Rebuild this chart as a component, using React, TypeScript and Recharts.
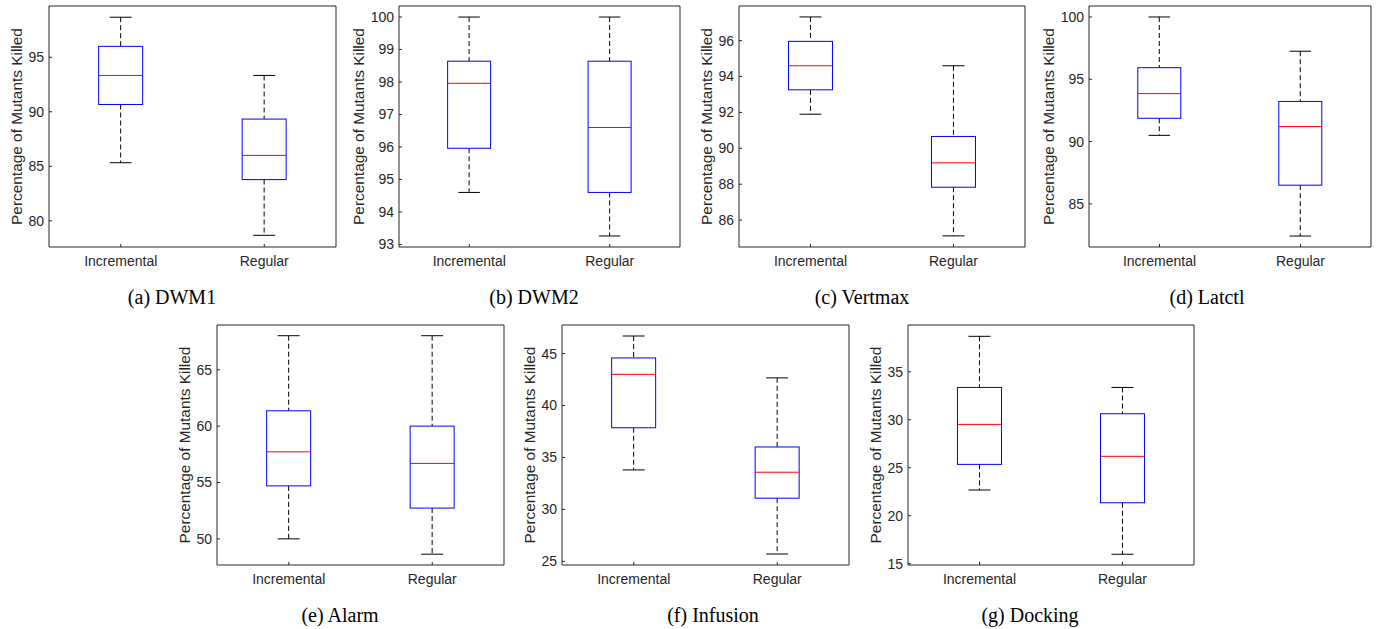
import { Bar, BarChart, XAxis, YAxis } from "recharts";

const categories = ["Incremental", "Regular"];

// each box: [lower whisker, Q1, median, Q3, upper whisker]
const dwm1Incremental = [85.33, 90.67, 93.33, 96.0, 98.67];
const dwm1Regular = [78.67, 83.78, 86.0, 89.33, 93.33];
const dwm1Ticks = [80, 85, 90, 95];
const dwm1Domain = [77.6, 99.7];

const dwm2Incremental = [94.6, 95.96, 97.96, 98.64, 100];
const dwm2Regular = [93.26, 94.6, 96.6, 98.64, 100];
const dwm2Ticks = [93, 94, 95, 96, 97, 98, 99, 100];
const dwm2Domain = [92.92, 100.34];

const vertmaxIncremental = [91.9, 93.26, 94.6, 95.96, 97.32];
const vertmaxRegular = [85.12, 87.83, 89.19, 90.66, 94.6];
const vertmaxTicks = [86, 88, 90, 92, 94, 96];
const vertmaxDomain = [84.5, 97.93];

const latctlIncremental = [90.5, 91.87, 93.85, 95.93, 100];
const latctlRegular = [82.42, 86.5, 91.2, 93.22, 97.25];
const latctlTicks = [85, 90, 95, 100];
const latctlDomain = [81.54, 100.88];

const alarmIncremental = [50, 54.7, 57.72, 61.36, 68.02];
const alarmRegular = [48.64, 52.73, 56.69, 60, 68.02];
const alarmTicks = [50, 55, 60, 65];
const alarmDomain = [47.68, 68.97];

const infusionIncremental = [33.8, 37.86, 43.0, 44.58, 46.69];
const infusionRegular = [25.71, 31.08, 33.58, 36.01, 42.66];
const infusionTicks = [25, 30, 35, 40, 45];
const infusionDomain = [24.65, 47.75];

const dockingIncremental = [22.68, 25.35, 29.52, 33.37, 38.7];
const dockingRegular = [15.98, 21.35, 26.19, 30.63, 33.37];
const dockingTicks = [15, 20, 25, 30, 35];
const dockingDomain = [14.86, 39.88];

const panels = [
  { caption: "(a) DWM1", incremental: dwm1Incremental, regular: dwm1Regular, ticks: dwm1Ticks, domain: dwm1Domain },
  { caption: "(b) DWM2", incremental: dwm2Incremental, regular: dwm2Regular, ticks: dwm2Ticks, domain: dwm2Domain },
  { caption: "(c) Vertmax", incremental: vertmaxIncremental, regular: vertmaxRegular, ticks: vertmaxTicks, domain: vertmaxDomain },
  { caption: "(d) Latctl", incremental: latctlIncremental, regular: latctlRegular, ticks: latctlTicks, domain: latctlDomain },
  { caption: "(e) Alarm", incremental: alarmIncremental, regular: alarmRegular, ticks: alarmTicks, domain: alarmDomain },
  { caption: "(f) Infusion", incremental: infusionIncremental, regular: infusionRegular, ticks: infusionTicks, domain: infusionDomain },
  { caption: "(g) Docking", incremental: dockingIncremental, regular: dockingRegular, ticks: dockingTicks, domain: dockingDomain },
];

// plot frame of each panel on the page, and where its caption sits
const frames = [
  { left: 49, top: 6, right: 336, bottom: 247, captionX: 172, captionY: 304 },
  { left: 399, top: 6, right: 680, bottom: 247, captionX: 534, captionY: 304 },
  { left: 739, top: 6, right: 1025, bottom: 247, captionX: 862, captionY: 304 },
  { left: 1089, top: 6, right: 1371, bottom: 247, captionX: 1207, captionY: 304 },
  { left: 217, top: 325, right: 504, bottom: 565, captionX: 340, captionY: 622 },
  { left: 562, top: 325, right: 849, bottom: 565, captionX: 713, captionY: 622 },
  { left: 908, top: 325, right: 1194, bottom: 565, captionX: 1030, captionY: 622 },
];

const AXIS_W = 60;
const AXIS_H = 30;
const PAD = 6;
const INK = "#262626";
const SANS = "'Liberation Sans', Arial, sans-serif";

function BoxShape(props: any) {
  const { x, y, width, height, payload } = props;
  const [lo, q1, med, q3, hi] = payload.stats;
  const top = Math.min(y, y + height);
  const span = Math.abs(height);
  const py = (v: number) => top + (span * (hi - v)) / (hi - lo);
  const cx = x + width / 2;
  const cap = width / 4;
  return (
    <g>
      <line x1={cx} x2={cx} y1={py(hi)} y2={py(q3)} stroke="#000" strokeDasharray="5 3" />
      <line x1={cx} x2={cx} y1={py(q1)} y2={py(lo)} stroke="#000" strokeDasharray="5 3" />
      <line x1={cx - cap} x2={cx + cap} y1={py(hi)} y2={py(hi)} stroke="#000" />
      <line x1={cx - cap} x2={cx + cap} y1={py(lo)} y2={py(lo)} stroke="#000" />
      <rect x={x} y={py(q3)} width={width} height={py(q1) - py(q3)} fill="none" stroke="#0000ff" />
      <line x1={x} x2={x + width} y1={py(med)} y2={py(med)} stroke="#ff0000" />
    </g>
  );
}

function BoxPanel({ panel, frame }: { panel: any; frame: any }) {
  const data = categories.map((name, i) => {
    const stats = i === 0 ? panel.incremental : panel.regular;
    return { name, stats, range: [stats[0], stats[4]] };
  });
  const width = frame.right - frame.left + AXIS_W + PAD;
  const height = frame.bottom - frame.top + PAD + AXIS_H;
  const labelOffset = Math.max(...panel.ticks) >= 100 ? 41 : 33;

  return (
    <div style={{ position: "absolute", left: frame.left - AXIS_W, top: frame.top - PAD }}>
      <BarChart
        width={width}
        height={height}
        data={data}
        margin={{ top: PAD - 1, right: PAD - 1, bottom: 0, left: 0 }}
        barCategoryGap="34.6%"
      >
        <XAxis
          xAxisId="bottom"
          dataKey="name"
          height={AXIS_H}
          interval={0}
          tickSize={-3}
          tickMargin={12}
          axisLine={{ stroke: INK }}
          tickLine={{ stroke: INK }}
          tick={{ fill: INK, fontSize: 14, fontFamily: SANS }}
        />
        <XAxis
          xAxisId="top"
          dataKey="name"
          orientation="top"
          height={1}
          interval={0}
          tickSize={-3}
          tick={false}
          axisLine={{ stroke: INK }}
          tickLine={{ stroke: INK }}
        />
        <YAxis
          yAxisId="left"
          type="number"
          domain={panel.domain}
          ticks={panel.ticks}
          allowDataOverflow
          interval={0}
          width={AXIS_W}
          tickSize={-3}
          tickMargin={8}
          axisLine={{ stroke: INK }}
          tickLine={{ stroke: INK }}
          tick={{ fill: INK, fontSize: 14, fontFamily: SANS }}
          label={{
            content: (p: any) => {
              const vb = p.viewBox;
              const lx = vb.x + vb.width - labelOffset;
              const ly = vb.y + vb.height / 2;
              return (
                <text
                  x={lx}
                  y={ly}
                  transform={`rotate(-90 ${lx} ${ly})`}
                  textAnchor="middle"
                  dominantBaseline="central"
                  fill={INK}
                  fontSize={15.4}
                  fontFamily={SANS}
                >
                  Percentage of Mutants Killed
                </text>
              );
            },
          }}
        />
        <YAxis
          yAxisId="right"
          type="number"
          orientation="right"
          domain={panel.domain}
          ticks={panel.ticks}
          allowDataOverflow
          interval={0}
          width={1}
          tickSize={-3}
          tick={false}
          axisLine={{ stroke: INK }}
          tickLine={{ stroke: INK }}
        />
        <Bar
          xAxisId="bottom"
          yAxisId="left"
          dataKey="range"
          shape={BoxShape}
          isAnimationActive={false}
        />
      </BarChart>
    </div>
  );
}

export default function App() {
  return (
    <div style={{ position: "absolute", left: 0, top: 0, width: 1382, height: 629, background: "#fff" }}>
      {panels.map((panel, i) => (
        <BoxPanel key={panel.caption} panel={panel} frame={frames[i]} />
      ))}
      <svg width={1382} height={629} style={{ position: "absolute", left: 0, top: 0, pointerEvents: "none" }}>
        {panels.map((panel, i) => (
          <text
            key={panel.caption}
            x={frames[i].captionX}
            y={frames[i].captionY}
            textAnchor="middle"
            fontSize={20}
            fontFamily="'Liberation Serif', 'Times New Roman', serif"
            fill="#000"
          >
            {panel.caption}
          </text>
        ))}
      </svg>
    </div>
  );
}
